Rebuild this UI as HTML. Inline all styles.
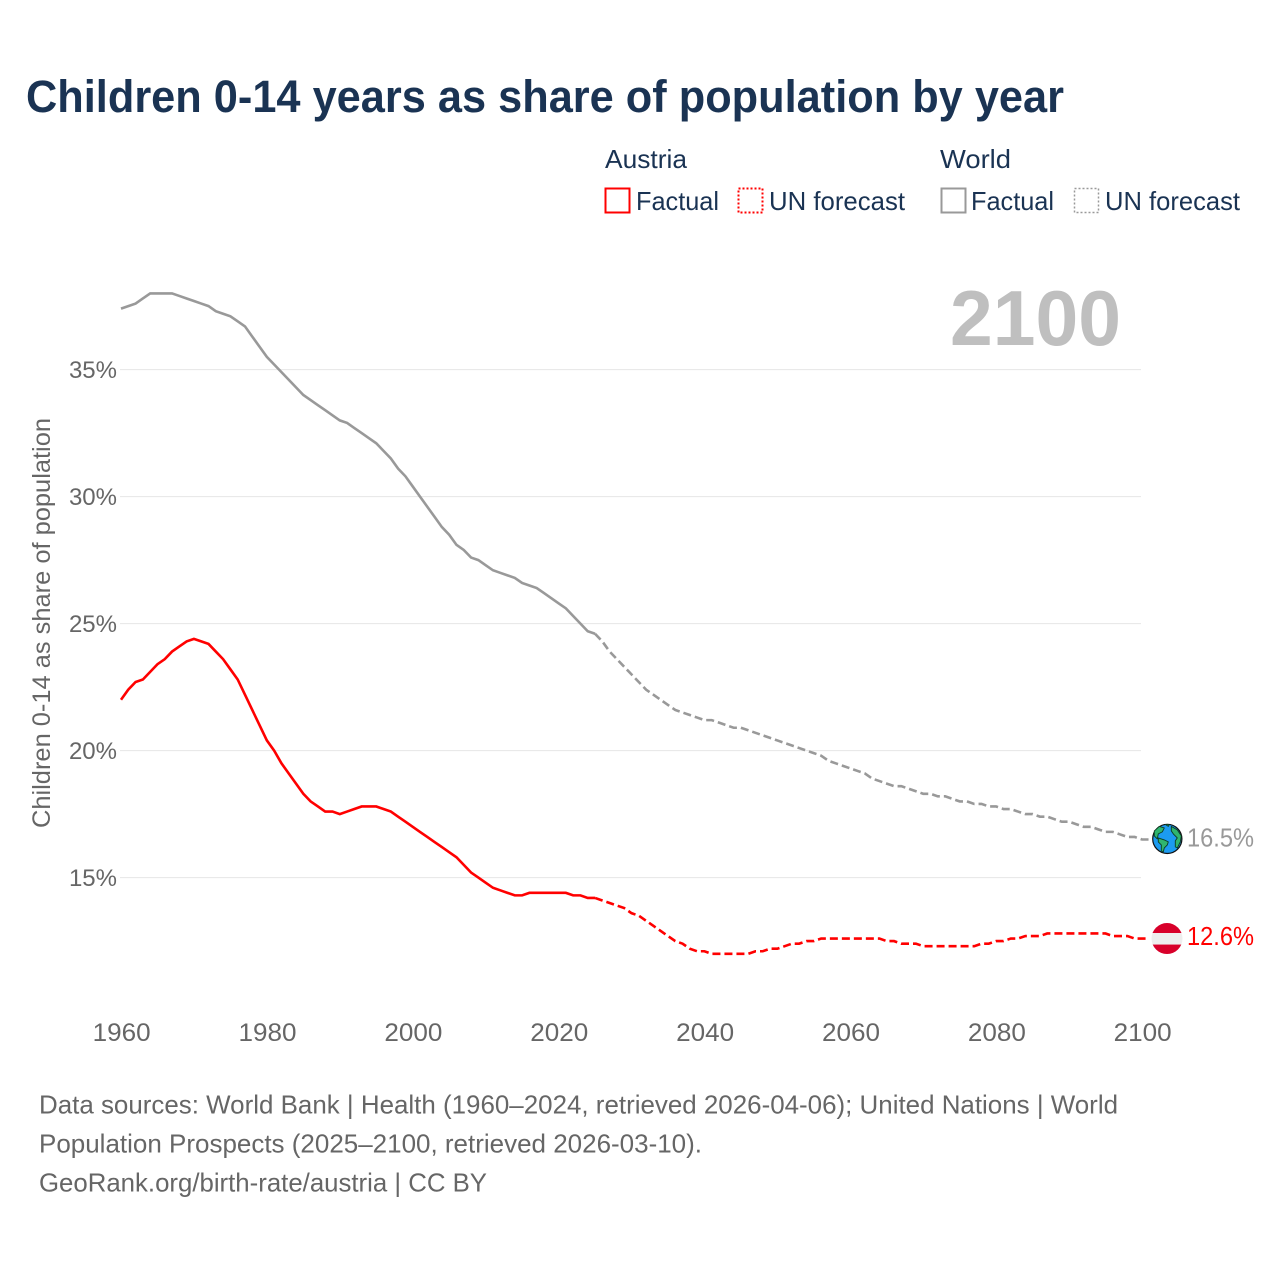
<!DOCTYPE html>
<html lang="en">
<head>
<meta charset="utf-8">
<title>Children 0-14 years as share of population by year</title>
<style>
  html, body { margin: 0; padding: 0; background: #fff; }
  svg { display: block; font-family: "Liberation Sans", sans-serif; }
</style>
</head>
<body>
<svg id="chart" width="1280" height="1280" viewBox="0 0 1280 1280" xmlns="http://www.w3.org/2000/svg">
  <rect width="1280" height="1280" fill="#ffffff"/>

  <text x="26" y="112" font-size="45" font-weight="700" fill="#1a3353" textLength="1038" lengthAdjust="spacingAndGlyphs">Children 0-14 years as share of population by year</text>

  <g font-size="26" fill="#1a3353">
    <text x="605" y="168" textLength="82" lengthAdjust="spacingAndGlyphs">Austria</text>
    <text x="940" y="168" textLength="71" lengthAdjust="spacingAndGlyphs">World</text>
    <rect x="605.5" y="188.5" width="24" height="24" fill="none" stroke="#ff0000" stroke-width="2"/>
    <text x="636" y="210" textLength="83" lengthAdjust="spacingAndGlyphs">Factual</text>
    <rect x="738.5" y="188.5" width="24" height="24" fill="none" stroke="#ff0000" stroke-width="2" stroke-dasharray="2 2"/>
    <text x="769" y="210" textLength="136" lengthAdjust="spacingAndGlyphs">UN forecast</text>
    <rect x="941.5" y="188.5" width="24" height="24" fill="none" stroke="#999999" stroke-width="2"/>
    <text x="971" y="210" textLength="83" lengthAdjust="spacingAndGlyphs">Factual</text>
    <rect x="1074.5" y="188.5" width="24" height="24" fill="none" stroke="#999999" stroke-width="1.5" stroke-dasharray="2 2"/>
    <text x="1105" y="210" textLength="135" lengthAdjust="spacingAndGlyphs">UN forecast</text>
  </g>

  <g id="grid"></g>
  <g id="yticks"></g>
  <g id="xticks"></g>

  <text x="950" y="345" font-size="78" font-weight="700" fill="#bfbfbf" textLength="171" lengthAdjust="spacingAndGlyphs">2100</text>

  <text transform="translate(50,828) rotate(-90)" font-size="25" fill="#666666" textLength="410" lengthAdjust="spacingAndGlyphs">Children 0-14 as share of population</text>

  <g id="series"></g>

  <g id="world-marker">
    <circle r="14.6" fill="#1c9bf0" stroke="#111111" stroke-width="1.2"/>
    <path fill="#2fb56f" stroke="#0d3b22" stroke-width="0.9" stroke-linejoin="round" d="M-13,-8 L-8,-12.5 L-3,-11 L-5,-7 L-9,-5 L-10,0 L-13,-3 Z M-9,-1 L-3,1 L1,3 L0,6 L-3,9 L-4,13 L-6,12 L-6,6 L-9,3 Z M4,-12.5 L10,-9 L14,-3 L13,3 L10,9 L8,8 L8,2 L10,-1 L6,-5 L4,-8 Z M-2,-14.5 L2,-14.5 L1,-12.5 Z"/>
  </g>
  <g id="austria-marker">
    <clipPath id="flag-clip"><circle r="15.5"/></clipPath>
    <g clip-path="url(#flag-clip)">
      <rect x="-16" y="-16.5" width="32" height="11" fill="#d8002a"/>
      <rect x="-16" y="-5.5" width="32" height="11.5" fill="#eeeeee"/>
      <rect x="-16" y="6" width="32" height="11" fill="#d8002a"/>
    </g>
  </g>
  <text id="world-value" x="1187" font-size="26" fill="#999999" textLength="67" lengthAdjust="spacingAndGlyphs"></text>
  <text id="austria-value" x="1187" font-size="26" fill="#ff0000" textLength="67" lengthAdjust="spacingAndGlyphs"></text>

  <g font-size="26" fill="#666666">
    <text x="39" y="1113.5" textLength="1079" lengthAdjust="spacingAndGlyphs">Data sources: World Bank | Health (1960–2024, retrieved 2026-04-06); United Nations | World</text>
    <text x="39" y="1152.5" textLength="663" lengthAdjust="spacingAndGlyphs">Population Prospects (2025–2100, retrieved 2026-03-10).</text>
    <text x="39" y="1191.5" textLength="448" lengthAdjust="spacingAndGlyphs">GeoRank.org/birth-rate/austria | CC BY</text>
  </g>
</svg>

<script>
const xTickLabels = [1960, 1980, 2000, 2020, 2040, 2060, 2080, 2100];
const yTickLabels = [15, 20, 25, 30, 35];
const factualStartYear = 1960;
const forecastStartYear = 2025;

const austriaFactual = [
  22.0, 22.4, 22.7, 22.8, 23.1, 23.4, 23.6, 23.9, 24.1, 24.3,
  24.4, 24.3, 24.2, 23.9, 23.6, 23.2, 22.8, 22.2, 21.6, 21.0,
  20.4, 20.0, 19.5, 19.1, 18.7, 18.3, 18.0, 17.8, 17.6, 17.6,
  17.5, 17.6, 17.7, 17.8, 17.8, 17.8, 17.7, 17.6, 17.4, 17.2,
  17.0, 16.8, 16.6, 16.4, 16.2, 16.0, 15.8, 15.5, 15.2, 15.0,
  14.8, 14.6, 14.5, 14.4, 14.3, 14.3, 14.4, 14.4, 14.4, 14.4,
  14.4, 14.4, 14.3, 14.3, 14.2, 14.2
];
const austriaForecast = [
  14.2, 14.1, 14.0, 13.9, 13.8, 13.6, 13.5, 13.3, 13.1, 12.9,
  12.7, 12.5, 12.4, 12.2, 12.1, 12.1, 12.0, 12.0, 12.0, 12.0,
  12.0, 12.0, 12.1, 12.1, 12.2, 12.2, 12.3, 12.4, 12.4, 12.5,
  12.5, 12.6, 12.6, 12.6, 12.6, 12.6, 12.6, 12.6, 12.6, 12.6,
  12.5, 12.5, 12.4, 12.4, 12.4, 12.3, 12.3, 12.3, 12.3, 12.3,
  12.3, 12.3, 12.3, 12.4, 12.4, 12.5, 12.5, 12.6, 12.6, 12.7,
  12.7, 12.7, 12.8, 12.8, 12.8, 12.8, 12.8, 12.8, 12.8, 12.8,
  12.8, 12.7, 12.7, 12.7, 12.6, 12.6
];
const worldFactual = [
  37.4, 37.5, 37.6, 37.8, 38.0, 38.0, 38.0, 38.0, 37.9, 37.8,
  37.7, 37.6, 37.5, 37.3, 37.2, 37.1, 36.9, 36.7, 36.3, 35.9,
  35.5, 35.2, 34.9, 34.6, 34.3, 34.0, 33.8, 33.6, 33.4, 33.2,
  33.0, 32.9, 32.7, 32.5, 32.3, 32.1, 31.8, 31.5, 31.1, 30.8,
  30.4, 30.0, 29.6, 29.2, 28.8, 28.5, 28.1, 27.9, 27.6, 27.5,
  27.3, 27.1, 27.0, 26.9, 26.8, 26.6, 26.5, 26.4, 26.2, 26.0,
  25.8, 25.6, 25.3, 25.0, 24.7, 24.6
];
const worldForecast = [
  24.6, 24.3, 23.9, 23.6, 23.3, 23.0, 22.7, 22.4, 22.2, 22.0,
  21.8, 21.6, 21.5, 21.4, 21.3, 21.2, 21.2, 21.1, 21.0, 20.9,
  20.9, 20.8, 20.7, 20.6, 20.5, 20.4, 20.3, 20.2, 20.1, 20.0,
  19.9, 19.8, 19.6, 19.5, 19.4, 19.3, 19.2, 19.1, 18.9, 18.8,
  18.7, 18.6, 18.6, 18.5, 18.4, 18.3, 18.3, 18.2, 18.2, 18.1,
  18.0, 18.0, 17.9, 17.9, 17.8, 17.8, 17.7, 17.7, 17.6, 17.5,
  17.5, 17.4, 17.4, 17.3, 17.2, 17.2, 17.1, 17.0, 17.0, 16.9,
  16.8, 16.8, 16.7, 16.6, 16.6, 16.5
];

const NS = 'http://www.w3.org/2000/svg';
const xScale = function (year) { return 121 + (year - 1960) * (1021 / 140); };
const yScale = function (value) { return 877.6 - (value - 15) * 25.4; };

const gridGroup = document.getElementById('grid');
const yTickGroup = document.getElementById('yticks');
yTickLabels.forEach(function (tick) {
  const line = document.createElementNS(NS, 'line');
  
  
  line.setAttribute('x1', 120);
  line.setAttribute('x2', 1141);
  line.setAttribute('y1', yScale(tick));
  line.setAttribute('y2', yScale(tick));
  line.setAttribute('stroke', '#e6e6e6');
  line.setAttribute('stroke-width', 1);
  gridGroup.appendChild(line);

  const label = document.createElementNS(NS, 'text');
  
  
  label.setAttribute('x', 117);
  label.setAttribute('y', yScale(tick) + 8.5);
  label.setAttribute('text-anchor', 'end');
  label.setAttribute('font-size', 24);
  label.setAttribute('fill', '#666666');
  label.textContent = tick + '%';
  yTickGroup.appendChild(label);
});

const xTickGroup = document.getElementById('xticks');
xTickLabels.forEach(function (tick) {
  const label = document.createElementNS(NS, 'text');
  
  
  label.setAttribute('x', xScale(tick) + 0.7);
  label.setAttribute('y', 1041);
  label.setAttribute('text-anchor', 'middle');
  label.setAttribute('font-size', 25);
  label.setAttribute('fill', '#666666');
  label.setAttribute('textLength', 58);
  label.setAttribute('lengthAdjust', 'spacingAndGlyphs');
  label.textContent = tick;
  xTickGroup.appendChild(label);
});

function linePath(values, startYear, tailPixels) {
  let d = '';
  values.forEach(function (value, index) {
    const px = xScale(startYear + index).toFixed(2);
    const py = yScale(value).toFixed(2);
    d += (index === 0 ? 'M' : 'L') + px + ',' + py + ' ';
  });
  if (tailPixels) {
    const last = values[values.length - 1];
    d += 'L' + (xScale(startYear + values.length - 1) + tailPixels).toFixed(2) + ',' + yScale(last).toFixed(2);
  }
  return d;
}

const seriesGroup = document.getElementById('series');

const worldFactualLine = document.createElementNS(NS, 'path');


worldFactualLine.setAttribute('d', linePath(worldFactual, factualStartYear, 0));
worldFactualLine.setAttribute('fill', 'none');
worldFactualLine.setAttribute('stroke', '#999999');
worldFactualLine.setAttribute('stroke-width', 2.6);
seriesGroup.appendChild(worldFactualLine);

const worldForecastLine = document.createElementNS(NS, 'path');


worldForecastLine.setAttribute('d', linePath(worldForecast, forecastStartYear, 7));
worldForecastLine.setAttribute('fill', 'none');
worldForecastLine.setAttribute('stroke', '#999999');
worldForecastLine.setAttribute('stroke-width', 2.6);
worldForecastLine.setAttribute('stroke-dasharray', '8 4');
seriesGroup.appendChild(worldForecastLine);

const austriaFactualLine = document.createElementNS(NS, 'path');


austriaFactualLine.setAttribute('d', linePath(austriaFactual, factualStartYear, 0));
austriaFactualLine.setAttribute('fill', 'none');
austriaFactualLine.setAttribute('stroke', '#ff0000');
austriaFactualLine.setAttribute('stroke-width', 2.6);
seriesGroup.appendChild(austriaFactualLine);

const austriaForecastLine = document.createElementNS(NS, 'path');


austriaForecastLine.setAttribute('d', linePath(austriaForecast, forecastStartYear, 7));
austriaForecastLine.setAttribute('fill', 'none');
austriaForecastLine.setAttribute('stroke', '#ff0000');
austriaForecastLine.setAttribute('stroke-width', 2.6);
austriaForecastLine.setAttribute('stroke-dasharray', '8 4');
seriesGroup.appendChild(austriaForecastLine);

const worldEnd = worldForecast[worldForecast.length - 1];
const austriaEnd = austriaForecast[austriaForecast.length - 1];
document.getElementById('world-marker').setAttribute('transform', 'translate(1167.3,' + (yScale(worldEnd) - 0.6) + ')');
document.getElementById('austria-marker').setAttribute('transform', 'translate(1167,' + yScale(austriaEnd) + ')');
const worldValue = document.getElementById('world-value');
worldValue.setAttribute('y', yScale(worldEnd) + 7);
worldValue.textContent = worldEnd.toFixed(1) + '%';
const austriaValue = document.getElementById('austria-value');
austriaValue.setAttribute('y', yScale(austriaEnd) + 6.5);
austriaValue.textContent = austriaEnd.toFixed(1) + '%';
</script>
</body>
</html>
